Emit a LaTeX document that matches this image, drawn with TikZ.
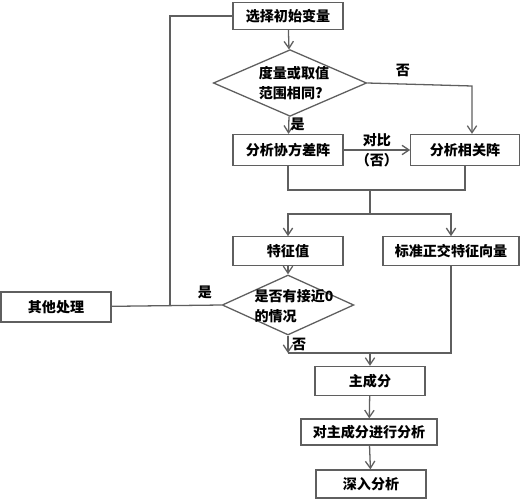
\documentclass[tikz,border=0pt]{standalone}
\usepackage{fontspec}
\newfontfamily\cjk{Noto Sans CJK SC}
\usetikzlibrary{shapes.geometric}
\usetikzlibrary{arrows.meta}
\usetikzlibrary{calc}
\definecolor{linegray}{RGB}{95,95,95}
\tikzset{
every picture/.style={line width=1.1pt, >={Straight Barb[length=6pt,width=8pt]}},
%%%%%%%%%%  Node styles
stepbox/.style={draw=linegray, line width=1.1pt, inner sep=1pt,
                minimum width=3.3cm, minimum height=0.85cm,
                font=\cjk\bfseries\fontsize{12}{14}\selectfont},
wide/.style={minimum width=#1},
decision/.style={diamond, draw=linegray, line width=1.1pt, inner sep=0pt,
                 minimum width=#1},
inside/.style={align=left, inner sep=0pt,
               font=\cjk\bfseries\fontsize{12}{17}\selectfont},
tag/.style={font=\cjk\bfseries\fontsize{12}{14}\selectfont, inner sep=1pt},
%%%% line styles
flow/.style={draw=linegray}
}

\begin{document}
\begin{tikzpicture}[x=0.03cm, y=-0.03cm]
\useasboundingbox (0,0) rectangle (522,500);
%%%%%%% boxes
\node[stepbox, minimum height=0.81cm] (start) at (288,16) {选择初始变量};
\node[decision=4.6cm, minimum height=2.0cm] (same) at (290,83) {};
\node[inside] (sametext) at (294,83) {度量或取值\\范围相同?};
\node[stepbox, minimum height=0.93cm] (cov) at (288,150) {分析协方差阵};
\node[stepbox, wide=3.25cm, minimum height=0.93cm] (corr) at (465,150) {分析相关阵};
\node[stepbox] (eig) at (288,251) {特征值};
\node[stepbox, wide=4.08cm] (vec) at (451,251) {标准正交特征向量};
\node[decision=3.95cm, minimum height=1.8cm] (zero) at (288,305) {};
\node[inside] (zerotext) at (294,306) {是否有接近0\\的情况};
\node[stepbox, minimum height=0.9cm] (other) at (56,307) {其他处理};
\node[stepbox, minimum height=0.87cm] (pc) at (370,381) {主成分};
\node[stepbox, wide=4.08cm, minimum height=0.78cm] (ana) at (369,432) {对主成分进行分析};
\node[stepbox, minimum height=0.84cm] (deep) at (371,484) {深入分析};
%%%%%%% helper points
\coordinate (noturn) at (472,86);
\coordinate (join) at (370,190);
\coordinate (split) at (370,214);
\coordinate (back) at (170,305);
\coordinate (nozero) at (288,353);
\coordinate (gather) at (370,353);
%%%%%%% connectors
\draw[flow,->] (start) -- (same);
\draw[flow,->] (same) -- (cov) node[tag, pos=0.45, right] {是};
\draw[flow,->] (same.east) -- (noturn) -- (corr.north -| noturn);
\node[tag] at (403,70) {否};
\draw[flow,->] (cov) -- (corr) node[tag, pos=0.5, above=1pt] {对比}
                              node[tag, pos=0.5, below=1pt] {（否）};
\draw[flow] (cov) |- (join) -| (corr);
\draw[flow] (join) -- (split);
\draw[flow,->] (split) -| (eig);
\draw[flow,->] (split) -| (vec);
\draw[flow,->] (eig) -- (zero);
\draw[flow] (zero.west) -- (other);
\node[tag] at (205,292) {是};
\draw[flow] (back) |- (start);
\draw[flow,->] (zero.south) -- (nozero) node[tag, pos=0.5, right=2pt] {否};
\draw[flow] (nozero) -| (vec);
\draw[flow,->] (gather) -- (pc);
\draw[flow,->] (pc) -- (ana);
\draw[flow,->] (ana) -- (deep);
\end{tikzpicture}
\end{document}
